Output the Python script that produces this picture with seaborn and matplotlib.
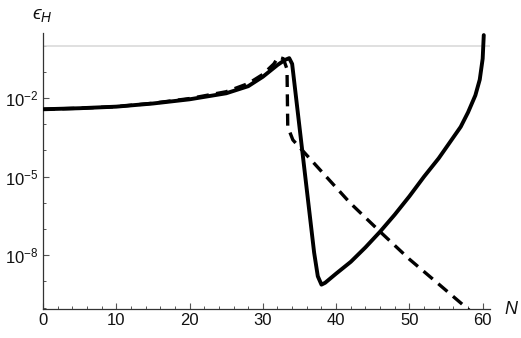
import numpy as np
import pandas as pd
import seaborn as sns
import matplotlib.pyplot as plt
from matplotlib.ticker import FixedLocator, NullFormatter

# values (N, log10 eps_H)
n_solid = [0, 5, 10, 15, 20, 25, 28, 30, 32, 33, 33.6, 34.0, 35, 36, 37, 37.5, 38.0, 38.5,
           40, 42, 44, 46, 48, 50, 52, 54, 56, 57, 58, 59, 59.6, 60.0, 60.15]
logeps_solid = [-2.43, -2.39, -2.33, -2.21, -2.05, -1.82, -1.55, -1.19, -0.74, -0.55, -0.48, -0.7,
                -3.1, -5.5, -7.9, -8.8, -9.12, -9.05, -8.7, -8.25, -7.7, -7.1, -6.45, -5.75,
                -5.0, -4.3, -3.5, -3.1, -2.55, -1.9, -1.3, -0.5, 0.4]

n_dashed = [0, 5, 10, 15, 20, 25, 28, 30, 31.5, 32.1, 32.8, 33.3, 33.4, 34.1, 38, 41.9, 46.0,
            50, 54, 58.6]
logeps_dashed = [-2.43, -2.39, -2.33, -2.2, -2.02, -1.76, -1.45, -1.1, -0.7, -0.44, -0.5, -0.9,
                 -3.1, -3.6, -4.8, -6.0, -7.1, -8.15, -9.1, -10.2]

df = pd.concat([
    pd.DataFrame({"N": n_solid, "eps": 10.0 ** np.array(logeps_solid), "kind": "solid"}),
    pd.DataFrame({"N": n_dashed, "eps": 10.0 ** np.array(logeps_dashed), "kind": "dashed"}),
])

sns.set_style("white")
plt.rcParams['font.family'] = ['Liberation Sans', 'DejaVu Sans']
plt.rcParams['mathtext.fontset'] = 'custom'
plt.rcParams['mathtext.rm'] = 'Liberation Sans'
plt.rcParams['mathtext.it'] = 'Liberation Sans:italic'
plt.rcParams['mathtext.fallback'] = 'stixsans'

fig = plt.figure(figsize=(5.21, 3.38), dpi=100)
ax = fig.add_axes([43 / 521, 1 - 309 / 338, 447 / 521, 276 / 338])

ax.axhline(1.0, color="#dadada", lw=1.2, zorder=1)

sns.lineplot(data=df[df.kind == "solid"], x="N", y="eps", color="black", lw=2.8,
             sort=False, estimator=None, ax=ax, zorder=3)
sns.lineplot(data=df[df.kind == "dashed"], x="N", y="eps", color="black", lw=2.4,
             sort=False, estimator=None, ax=ax, zorder=2, dashes=False,
             linestyle=(0, (3.6, 2.2)))

ax.set_yscale("log")
ax.set_xlim(0, 61)
ax.set_ylim(10 ** -10.05, 10 ** 0.48)

ax.set_xticks([0, 10, 20, 30, 40, 50, 60])
ax.xaxis.set_minor_locator(FixedLocator(np.arange(0, 61, 2)))
yt = [1e-8, 1e-5, 1e-2]
ax.yaxis.set_major_locator(FixedLocator(yt))
ax.set_yticklabels([r"$10^{-8}$", r"$10^{-5}$", r"$10^{-2}$"])
ax.yaxis.set_minor_locator(FixedLocator([10.0 ** k for k in range(-10, 1)]))
ax.yaxis.set_minor_formatter(NullFormatter())

ax.tick_params(which="major", direction="in", length=4.5, width=0.8, labelsize=12,
               color="#555555", labelcolor="#111111", bottom=True, left=True)
ax.tick_params(which="minor", direction="in", length=2.5, width=0.7, color="#555555",
               bottom=True, left=True)
ax.tick_params(axis="x", pad=3)
ax.tick_params(axis="y", pad=3)

for s in ["top", "right"]:
    ax.spines[s].set_visible(False)
for s in ["left", "bottom"]:
    ax.spines[s].set_color("#333333")
    ax.spines[s].set_linewidth(0.9)

ax.set_xlabel("")
ax.set_ylabel("")
fig.text(512 / 521, 1 - 309 / 338, r"$N$", fontsize=13, ha="center", va="center",
         color="#111111")
fig.text(42 / 521, 1 - 15 / 338, "$\u03f5_H$", fontsize=14, ha="center", va="center",
         color="#111111")

fig.savefig("out.png", dpi=100)
